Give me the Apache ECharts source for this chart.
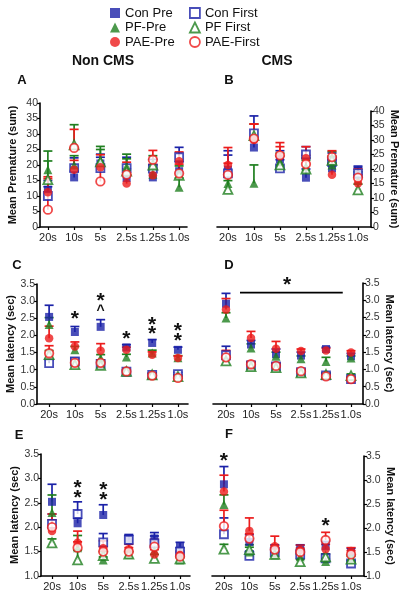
<!DOCTYPE html>
<html><head><meta charset="utf-8">
<script src="https://cdn.jsdelivr.net/npm/echarts@6/dist/echarts.min.js"></script>
<style>html,body{margin:0;padding:0;background:#fff}#c{width:401px;height:600px}</style>
</head><body><div id="c"></div>
<script>
// ---------- data ----------
const categories = ['20s','10s','5s','2.5s','1.25s','1.0s'];
const seriesNames = ['Con Pre','Con First','PF-Pre','PF First','PAE-Pre','PAE-First'];

// Panel A (Non CMS, premature)
const A_conPre = [12, 16, 20.5, 15.8, 16, 18];
const A_conPre_sem = [3, 2, 3, 3, 2.5, 3];
const A_conFirst = [10, 19, 19, 19, 18.8, 22.5];
const A_conFirst_sem = [3, 3.3, 3.5, 3.5, 3, 3.2];
const A_pfPre = [18.5, 20, 21.5, 19.5, 17, 12.8];
const A_pfPre_sem = [6, 3, 4.5, 4, 3, 3];
const A_pfFirst = [15.3, 26.5, 21, 18, 20, 16.7];
const A_pfFirst_sem = [6, 6.5, 4, 4, 3, 3];
const A_paePre = [11.2, 18.5, 19.3, 14, 16.7, 21.2];
const A_paePre_sem = [5, 3, 4, 3, 3.5, 3];
const A_paeFirst = [5.6, 25.5, 14.7, 16.9, 21.7, 17.3];
const A_paeFirst_sem = [10, 6, 5, 4, 3, 3];

// Panel B (CMS, premature)
const B_conPre = [19.7, 27.4, 23.3, 17, 20.2, 18];
const B_conPre_sem = [6.6, 3, 3, 3, 3, 2.5];
const B_conFirst = [18.5, 32.3, 20.2, 25, 22.5, 18.5];
const B_conFirst_sem = [6.3, 6, 3, 2.7, 3, 2.5];
const B_pfPre = [15, 15.1, 22.5, 20.8, 21.4, 16];
const B_pfPre_sem = [3, 6.3, 3, 3, 3, 3];
const B_pfFirst = [13, 31.5, 21.4, 20, 23, 12.8];
const B_pfFirst_sem = [3, 4, 3, 3, 3, 2];
const B_paePre = [21.4, 30, 24.8, 23.7, 18, 15.1];
const B_paePre_sem = [6, 5.5, 4.3, 4, 4, 3];
const B_paeFirst = [18, 30.5, 24.7, 21.7, 24.1, 17];
const B_paeFirst_sem = [4, 5, 3, 3, 2.2, 3];

// Panel C (Non CMS, latency)
const C_conPre = [2.54, 2.1, 2.25, 1.65, 1.78, 1.58];
const C_conPre_sem = [0.34, 0.16, 0.21, 0.08, 0.1, 0.08];
const C_conFirst = [1.19, 1.24, 1.17, 0.94, 0.85, 0.87];
const C_conFirst_sem = [0.1, 0.1, 0.08, 0.05, 0.05, 0.05];
const C_pfPre = [2.32, 1.58, 1.34, 1.37, 1.49, 1.35];
const C_pfPre_sem = [0.2, 0.1, 0.1, 0.08, 0.08, 0.06];
const C_pfFirst = [1.44, 1.15, 1.13, 0.95, 0.85, 0.8];
const C_pfFirst_sem = [0.12, 0.08, 0.08, 0.05, 0.05, 0.05];
const C_paePre = [1.92, 1.68, 1.55, 1.58, 1.44, 1.34];
const C_paePre_sem = [0.35, 0.13, 0.21, 0.08, 0.08, 0.06];
const C_paeFirst = [1.48, 1.2, 1.2, 0.95, 0.83, 0.76];
const C_paeFirst_sem = [0.22, 0.1, 0.08, 0.05, 0.05, 0.05];

// Panel D (CMS, latency)
const D_conPre = [2.9, 1.72, 1.44, 1.4, 1.59, 1.38];
const D_conPre_sem = [0.3, 0.12, 0.15, 0.1, 0.05, 0.08];
const D_conFirst = [1.41, 1.12, 1.09, 0.92, 0.83, 0.72];
const D_conFirst_sem = [0.26, 0.08, 0.08, 0.06, 0.06, 0.05];
const D_pfPre = [2.49, 1.62, 1.38, 1.31, 1.23, 1.33];
const D_pfPre_sem = [0.15, 0.12, 0.12, 0.08, 0.12, 0.06];
const D_pfFirst = [1.25, 1.08, 1.05, 0.9, 0.85, 0.82];
const D_pfFirst_sem = [0.1, 0.06, 0.06, 0.06, 0.05, 0.05];
const D_paePre = [2.73, 1.91, 1.6, 1.53, 1.55, 1.49];
const D_paePre_sem = [0.32, 0.19, 0.21, 0.06, 0.06, 0.05];
const D_paeFirst = [1.35, 1.15, 1.1, 0.95, 0.8, 0.72];
const D_paeFirst_sem = [0.2, 0.08, 0.08, 0.06, 0.05, 0.05];

// Panel E (Non CMS, latency)
const E_conPre = [2.52, 2.08, 2.25, 1.73, 1.77, 1.6];
const E_conPre_sem = [0.36, 0.1, 0.21, 0.1, 0.12, 0.09];
const E_conFirst = [2.07, 2.27, 1.69, 1.74, 1.67, 1.5];
const E_conFirst_sem = [0.2, 0.25, 0.18, 0.11, 0.15, 0.08];
const E_pfPre = [2.3, 1.58, 1.33, 1.45, 1.52, 1.33];
const E_pfPre_sem = [0.36, 0.25, 0.06, 0.05, 0.1, 0.05];
const E_pfFirst = [1.68, 1.33, 1.42, 1.45, 1.36, 1.35];
const E_pfFirst_sem = [0.08, 0.2, 0.08, 0.05, 0.08, 0.05];
const E_paePre = [1.92, 1.68, 1.57, 1.55, 1.44, 1.43];
const E_paePre_sem = [0.35, 0.24, 0.15, 0.1, 0.1, 0.08];
const E_paeFirst = [2.0, 1.58, 1.5, 1.5, 1.6, 1.4];
const E_paeFirst_sem = [0.15, 0.12, 0.1, 0.08, 0.15, 0.08];

// Panel F (CMS, latency)
const F_conPre = [2.91, 1.71, 1.55, 1.55, 1.62, 1.5];
const F_conPre_sem = [0.37, 0.15, 0.1, 0.1, 0.1, 0.08];
const F_conFirst = [1.87, 1.42, 1.5, 1.45, 1.37, 1.26];
const F_conFirst_sem = [0.34, 0.1, 0.08, 0.1, 0.08, 0.06];
const F_pfPre = [2.49, 1.5, 1.44, 1.4, 1.3, 1.38];
const F_pfPre_sem = [0.2, 0.1, 0.06, 0.06, 0.06, 0.06];
const F_pfFirst = [1.56, 1.55, 1.45, 1.3, 1.4, 1.35];
const F_pfFirst_sem = [0.1, 0.1, 0.06, 0.05, 0.06, 0.06];
const F_paePre = [2.76, 1.94, 1.62, 1.54, 1.56, 1.52];
const F_paePre_sem = [0.34, 0.27, 0.21, 0.1, 0.1, 0.07];
const F_paeFirst = [2.04, 1.78, 1.55, 1.5, 1.75, 1.45];
const F_paeFirst_sem = [0.33, 0.1, 0.08, 0.08, 0.16, 0.08];

// significance annotations: [category index, value, text]
const C_marks = [[1, 2.57, '*'], [2, 3.08, '*'], [2, 2.74, '^'], [3, 1.99, '*'], [4, 2.4, '*'], [4, 2.11, '*'], [5, 2.2, '*'], [5, 1.92, '*']];
const D_marks = [[2.44, 3.53, '*']];
const D_barX = [0.56, 4.67];
const D_barY = 3.22;
const E_marks = [[1, 2.86, '*'], [1, 2.66, '*'], [2, 2.82, '*'], [2, 2.61, '*']];
const F_marks = [[0, 3.45, '*'], [4, 2.1, '*']];

// ---------- styling ----------
const BLUE = '#1b22a8', GREEN = '#1f7f1f', RED = '#ec1c1c';
const FONT = 'Liberation Sans, Arial, sans-serif';
const styles = [
  {symbol: 'rect', color: BLUE, open: false, size: 8},
  {symbol: 'rect', color: BLUE, open: true, size: 8},
  {symbol: 'triangle', color: GREEN, open: false, size: 9},
  {symbol: 'triangle', color: GREEN, open: true, size: 9},
  {symbol: 'circle', color: RED, open: false, size: 8.5},
  {symbol: 'circle', color: RED, open: true, size: 8.5}
];

const panels = [
  {id: 'A', grid: {left: 40, top: 103, width: 147, height: 124}, x: [-0.3, 5.3], y: [0, 40, 5], dec: 0, side: 'left', name: 'Mean Premature (sum)', gap: 22,
    means: [A_conPre, A_conFirst, A_pfPre, A_pfFirst, A_paePre, A_paeFirst], sems: [A_conPre_sem, A_conFirst_sem, A_pfPre_sem, A_pfFirst_sem, A_paePre_sem, A_paeFirst_sem], marks: []},
  {id: 'B', grid: {left: 217, top: 111, width: 154, height: 116}, x: [-0.42, 5.5], y: [0, 40, 5], dec: 0, side: 'right', name: 'Mean Premature (sum)', gap: 17,
    means: [B_conPre, B_conFirst, B_pfPre, B_pfFirst, B_paePre, B_paeFirst], sems: [B_conPre_sem, B_conFirst_sem, B_pfPre_sem, B_pfFirst_sem, B_paePre_sem, B_paeFirst_sem], marks: []},
  {id: 'C', grid: {left: 37, top: 284, width: 151, height: 120}, x: [-0.47, 5.39], y: [0, 3.5, 0.5], dec: 1, side: 'left', name: 'Mean latency (sec)', gap: 21,
    means: [C_conPre, C_conFirst, C_pfPre, C_pfFirst, C_paePre, C_paeFirst], sems: [C_conPre_sem, C_conFirst_sem, C_pfPre_sem, C_pfFirst_sem, C_paePre_sem, C_paeFirst_sem], marks: C_marks},
  {id: 'D', grid: {left: 213, top: 283, width: 150, height: 121}, x: [-0.52, 5.48], y: [0, 3.5, 0.5], dec: 1, side: 'right', name: 'Mean latency (sec)', gap: 20,
    means: [D_conPre, D_conFirst, D_pfPre, D_pfFirst, D_paePre, D_paeFirst], sems: [D_conPre_sem, D_conFirst_sem, D_pfPre_sem, D_pfFirst_sem, D_paePre_sem, D_paeFirst_sem], marks: D_marks},
  {id: 'E', grid: {left: 41, top: 454, width: 149, height: 122}, x: [-0.43, 5.39], y: [1, 3.5, 0.5], dec: 1, side: 'left', name: 'Mean latency (sec)', gap: 21,
    means: [E_conPre, E_conFirst, E_pfPre, E_pfFirst, E_paePre, E_paeFirst], sems: [E_conPre_sem, E_conFirst_sem, E_pfPre_sem, E_pfFirst_sem, E_paePre_sem, E_paeFirst_sem], marks: E_marks},
  {id: 'F', grid: {left: 212, top: 456, width: 152, height: 120}, x: [-0.47, 5.51], y: [1, 3.5, 0.5], dec: 1, side: 'right', name: 'Mean latency (sec)', gap: 20,
    means: [F_conPre, F_conFirst, F_pfPre, F_pfFirst, F_paePre, F_paeFirst], sems: [F_conPre_sem, F_conFirst_sem, F_pfPre_sem, F_pfFirst_sem, F_paePre_sem, F_paeFirst_sem], marks: F_marks}
];

// mean + SEM (upward) error bar with a cap
function errRender(params, api) {
  const x = api.value(0), m = api.value(1), hi = api.value(2);
  const pM = api.coord([x, m]), pHi = api.coord([x, hi]);
  const w = 4.5;
  const st = {stroke: api.visual('color'), lineWidth: 1.7};
  return {type: 'group', children: [
    {type: 'line', shape: {x1: pHi[0], y1: pHi[1], x2: pM[0], y2: pM[1]}, style: st},
    {type: 'line', shape: {x1: pHi[0] - w, y1: pHi[1], x2: pHi[0] + w, y2: pHi[1]}, style: st}
  ]};
}
function textRender(params, api) {
  const p = api.coord([api.value(0), api.value(1)]);
  const t = api.value(2);
  const caret = t === '^';
  return {type: 'text', x: p[0], y: p[1] + (caret ? 1 : 3), style: {text: t, align: 'center', verticalAlign: 'middle', font: caret ? 'bold 14px Liberation Sans' : 'bold 21px Liberation Sans', fill: '#111'}};
}

const grids = [], xAxes = [], yAxes = [], series = [];
panels.forEach((p, gi) => {
  grids.push(Object.assign({containLabel: false}, p.grid));
  xAxes.push({
    type: 'value', gridIndex: gi, min: p.x[0], max: p.x[1],
    axisLine: {onZero: false, lineStyle: {color: '#000', width: 1.6}},
    axisTick: {customValues: [0, 1, 2, 3, 4, 5], length: 3, lineStyle: {color: '#000', width: 1.2}},
    axisLabel: {customValues: [0, 1, 2, 3, 4, 5], formatter: v => categories[Math.round(v)], color: '#222', fontSize: 11, fontFamily: FONT, margin: 5},
    splitLine: {show: false}
  });
  const right = p.side === 'right';
  yAxes.push({
    type: 'value', gridIndex: gi, position: p.side, min: p.y[0], max: p.y[1], interval: p.y[2],
    axisLine: {show: true, onZero: false, lineStyle: {color: '#000', width: 1.6}},
    axisTick: {show: true, length: 3, lineStyle: {color: '#000', width: 1.2}},
    axisLabel: {color: '#333', fontSize: 10.5, fontFamily: FONT, margin: 2, formatter: v => v.toFixed(p.dec)},
    splitLine: {show: false},
    name: p.name, nameLocation: 'middle', nameGap: p.gap, nameRotate: right ? -90 : 90,
    nameTextStyle: {fontWeight: 'bold', fontSize: 11, fontFamily: FONT, color: '#111'}
  });
  // error bars
  p.means.forEach((m, si) => {
    series.push({
      type: 'custom', name: 'err', xAxisIndex: gi, yAxisIndex: gi, z: 2 + si * 0.1,
      itemStyle: {color: styles[si].color}, renderItem: errRender,
      encode: {x: 0, y: [1, 2]}, silent: true,
      data: m.map((v, i) => [i, v, v + p.sems[si][i]])
    });
  });
  // markers
  p.means.forEach((m, si) => {
    const s = styles[si];
    series.push({
      type: 'scatter', name: seriesNames[si], xAxisIndex: gi, yAxisIndex: gi, z: 5 + si * 0.1,
      symbol: s.symbol, symbolSize: s.size,
      itemStyle: s.open ? {color: '#fff', borderColor: s.color, borderWidth: 1.8} : {color: s.color, borderWidth: 0},
      data: m.map((v, i) => [i, v])
    });
  });
  if (p.marks.length) {
    series.push({type: 'custom', name: 'sig', xAxisIndex: gi, yAxisIndex: gi, z: 8, renderItem: textRender, encode: {x: 0, y: 1}, silent: true, data: p.marks});
  }
  if (p.id === 'D') {
    series.push({type: 'line', name: 'bar', xAxisIndex: gi, yAxisIndex: gi, symbol: 'none', silent: true,
      lineStyle: {color: '#000', width: 1.8}, data: [[D_barX[0], D_barY], [D_barX[1], D_barY]]});
  }
});

const legendText = {fontSize: 13, fontFamily: FONT, color: '#111', lineHeight: 14};
function legItem(i) {
  const s = styles[i];
  return {name: seriesNames[i], icon: s.symbol === 'rect' ? 'rect' : s.symbol,
    itemStyle: s.open ? {color: '#fff', borderColor: s.color, borderWidth: 1.8} : {color: s.color, borderWidth: 0}};
}

const txt = (t, x, y, size) => ({type: 'text', x: x, y: y, style: {text: t, font: 'bold ' + size + 'px Liberation Sans', fill: '#111', align: 'center', verticalAlign: 'middle'}});

const option = {
  animation: false,
  backgroundColor: '#fff',
  grid: grids, xAxis: xAxes, yAxis: yAxes, series: series,
  legend: [
    {orient: 'vertical', left: 110, top: 6, padding: 0, itemWidth: 10, itemHeight: 10, itemGap: 0.5, selectedMode: false, textStyle: legendText, data: [legItem(0), legItem(2), legItem(4)]},
    {orient: 'vertical', left: 189, top: 6, padding: 0, itemWidth: 10, itemHeight: 10, itemGap: 0.5, selectedMode: false, textStyle: legendText, data: [legItem(1), legItem(3), legItem(5)]}
  ],
  graphic: [
    txt('Non CMS', 103, 61, 14), txt('CMS', 277, 61, 14),
    txt('A', 22, 80, 13), txt('B', 229, 80, 13),
    txt('C', 17, 265, 13), txt('D', 229, 265, 13),
    txt('E', 19, 435, 13), txt('F', 229, 434, 13)
  ]
};
echarts.init(document.getElementById('c'), null, {renderer: 'canvas'}).setOption(option);
</script></body></html>
